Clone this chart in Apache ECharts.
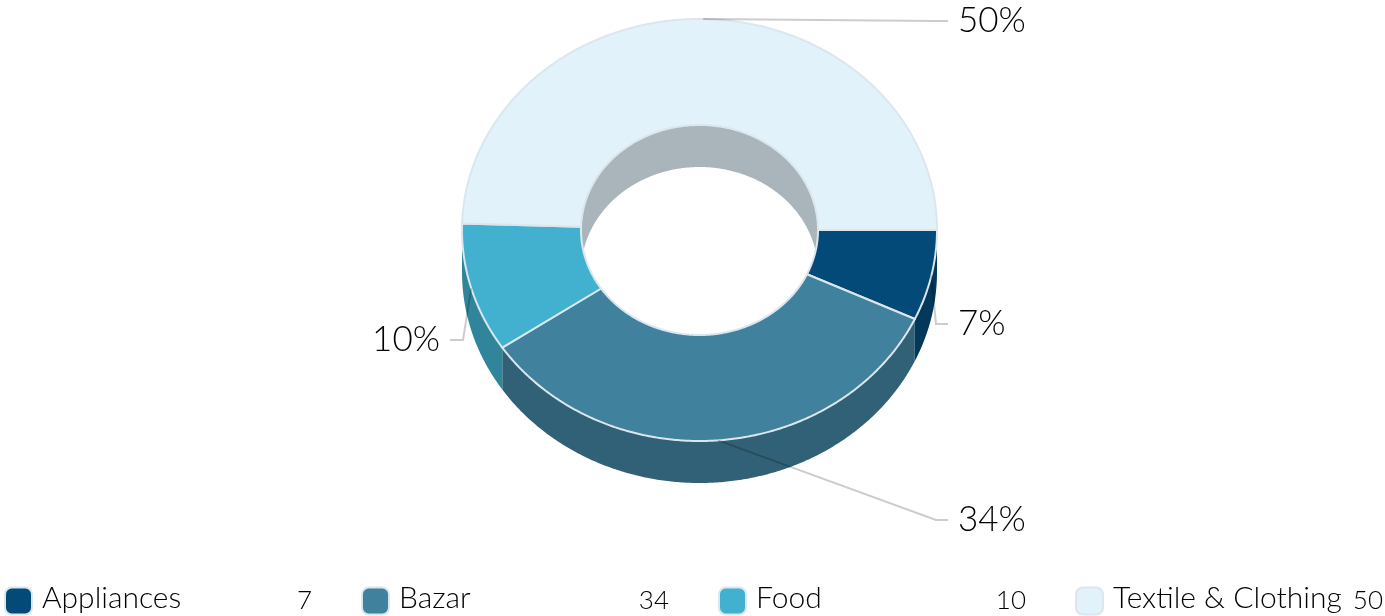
<!DOCTYPE html>
<html><head><meta charset="utf-8">
<style>html,body{margin:0;padding:0;background:#fff}#c{width:1385px;height:616px}</style>
<script src="https://cdn.jsdelivr.net/npm/echarts@6/dist/echarts.min.js"></script>
</head><body><div id="c"></div>
<script>
const categories = ['Appliances', 'Bazar', 'Food', 'Textile & Clothing'];
const values = [7, 34, 10, 50];
const colors = ['#034a78', '#40819d', '#41b1cf', '#e2f2fa'];
const wallColors = ['#02385a', '#306176', '#31859b', '#a9b5bb'];
const labelRows = [324, 520, 340, 21];

const FONT = 'Lato';
const cx = 699.5, cy = 230, rx = 237.5, ry = 211, irx = 118.5, iry = 105, depth = 42;
const total = values.reduce((a, b) => a + b, 0);
const rad = d => d * Math.PI / 180;
const pt = (a, x, y, dy) => [cx + x * Math.cos(rad(a)), cy + (dy || 0) + y * Math.sin(rad(a))];
function arc(a0, a1, x, y, dy) {
  const pts = [], n = Math.max(2, Math.ceil(Math.abs(a1 - a0) * 2));
  for (let i = 0; i <= n; i++) pts.push(pt(a0 + (a1 - a0) * i / n, x, y, dy));
  return pts;
}
function sliceAngles(idx, value) {
  let before = 0;
  for (let i = 0; i < idx; i++) before += values[i];
  return [before / total * 360, (before + value) / total * 360];
}
function renderSlice(idx) {
  return function (params, api) {
    const value = api.value(0);
    const [a0, a1] = sliceAngles(idx, value);
    const mid = (a0 + a1) / 2;
    const kids = [];
    // outer wall: only front half of the ring is visible
    const o0 = Math.max(a0, 0), o1 = Math.min(a1, 180);
    if (o1 > o0) {
      kids.push({ type: 'polygon', z2: 1, shape: { points: arc(o0, o1, rx, ry, 0).concat(arc(o1, o0, rx, ry, depth)) },
        style: { fill: wallColors[idx], stroke: null } });
    }
    // inner wall: only back half of the hole is visible
    const i0 = Math.max(a0, 180), i1 = Math.min(a1, 360);
    if (i1 > i0) {
      kids.push({ type: 'polygon', z2: 1, shape: { points: arc(i0, i1, irx, iry, 0).concat(arc(i1, i0, irx, iry, depth)) },
        style: { fill: wallColors[idx], stroke: null } });
    }
    // top face
    kids.push({ type: 'polygon', z2: 2, shape: { points: arc(a0, a1, rx, ry, 0).concat(arc(a1, a0, irx, iry, 0)) },
      style: { fill: colors[idx], stroke: '#dbe6ed', lineWidth: 2, lineJoin: 'round' } });
    // leader and label
    const start = pt(mid, rx, ry, 0);
    const right = Math.cos(rad(mid)) >= 0;
    const rowY = labelRows[idx];
    const endX = right ? 948 : 450;
    const elbowX = right ? 936 : 463;
    kids.push({ type: 'polyline', z2: 3, shape: { points: [start, [elbowX, rowY], [endX, rowY]] },
      style: { fill: null, stroke: 'rgba(0,0,0,0.2)', lineWidth: 2 } });
    kids.push({ type: 'text', z2: 4, style: {
      text: Math.round(value) + '%', x: right ? 958 : 440, y: rowY,
      align: right ? 'left' : 'right', verticalAlign: 'middle',
      fill: '#000', font: '300 35px ' + FONT } });
    return { type: 'group', children: kids };
  };
}
const chart = echarts.init(document.getElementById('c'), null, { renderer: 'canvas' });
chart.setOption({
  animation: false,
  backgroundColor: '#fff',
  legend: {
    left: 4, top: 583, padding: 0, itemWidth: 27, itemHeight: 27, itemGap: 49, icon: 'roundRect',
    selectedMode: false, width: 1385,
    itemStyle: { borderColor: '#dbe6ed', borderWidth: 2 },
    data: categories,
    formatter: name => `{n|${name}}{v|${values[categories.indexOf(name)]}}`,
    textStyle: { padding: [0, 0, 6, 0], rich: {
      n: { fontFamily: FONT, fontWeight: 300, fontSize: 30, color: '#000', width: 214, padding: [0, 0, 0, 5], align: 'left' },
      v: { fontFamily: FONT, fontWeight: 300, fontSize: 26, color: '#000', width: 56, align: 'right', padding: [5, 0, 0, 0] }
    } }
  },
  series: categories.map((name, i) => ({
    type: 'custom', name, coordinateSystem: 'none', silent: true,
    itemStyle: { color: colors[i] },
    data: [[values[i]]],
    renderItem: renderSlice(i)
  }))
});
</script></body></html>
